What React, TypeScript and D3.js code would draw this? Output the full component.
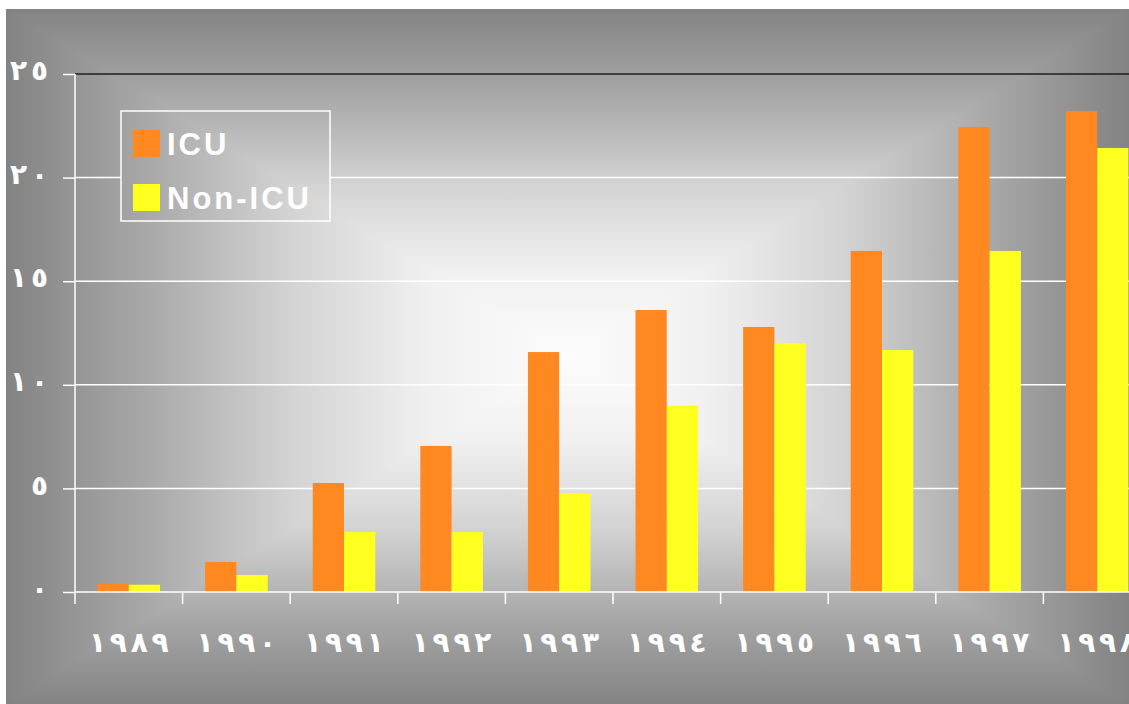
import React, { useEffect, useRef } from 'react';
import * as d3 from 'd3';

const years = ['١٩٨٩', '١٩٩٠', '١٩٩١', '١٩٩٢', '١٩٩٣', '١٩٩٤', '١٩٩٥', '١٩٩٦', '١٩٩٧', '١٩٩٨'];
const icu = [0.4, 1.45, 5.26, 7.05, 11.58, 13.61, 12.79, 16.46, 22.44, 23.21];
const nonIcu = [0.35, 0.82, 2.9, 2.9, 4.78, 8.98, 12.02, 11.68, 16.46, 21.43];
const yTicks = [0, 5, 10, 15, 20, 25];
const yTickLabels = ['٠', '٥', '١٠', '١٥', '٢٠', '٢٥'];
const seriesNames = ['ICU', 'Non-ICU'];
const seriesColors = ['#ff8820', '#ffff20'];

const W = 1129;
const H = 704;

// spread the digits apart, keeping left-to-right order
const spaced = (s: string) => Array.from(s).join(' ');

const App: React.FC = () => {
  const svgRef = useRef<SVGSVGElement>(null);

  useEffect(() => {
    if (!svgRef.current) return;
    const svg = d3.select(svgRef.current);
    svg.selectAll('*').remove();

    const bg = { x0: 6, y0: 9, x1: W, y1: H };
    const cx = (bg.x0 + bg.x1) / 2;
    const cy = (bg.y0 + bg.y1) / 2;
    const stops: [number, string][] = [
      [0, '#fcfcfc'],
      [0.25, '#f0f0f0'],
      [0.5, '#d2d2d2'],
      [0.75, '#a8a8a8'],
      [1, '#838383'],
    ];

    const defs = svg.append('defs');
    // "from center" rectangular gradient: horizontal mirrored fill + top/bottom triangles
    const hg = defs.append('linearGradient')
      .attr('id', 'gH')
      .attr('gradientUnits', 'userSpaceOnUse')
      .attr('x1', bg.x0).attr('y1', cy).attr('x2', bg.x1).attr('y2', cy);
    stops.slice().reverse().forEach(([o, c]) => hg.append('stop').attr('offset', (1 - o) / 2).attr('stop-color', c));
    stops.forEach(([o, c]) => hg.append('stop').attr('offset', 0.5 + o / 2).attr('stop-color', c));

    const sides = [
      { id: 'gTop', y2: bg.y0, pts: [[cx, cy], [bg.x0, bg.y0], [bg.x1, bg.y0]] },
      { id: 'gBottom', y2: bg.y1, pts: [[cx, cy], [bg.x0, bg.y1], [bg.x1, bg.y1]] },
    ];
    sides.forEach(s => {
      const lg = defs.append('linearGradient')
        .attr('id', s.id)
        .attr('gradientUnits', 'userSpaceOnUse')
        .attr('x1', cx).attr('y1', cy)
        .attr('x2', cx).attr('y2', s.y2);
      stops.forEach(([o, c]) => lg.append('stop').attr('offset', o).attr('stop-color', c));
    });

    const bgGroup = defs.append('g').attr('id', 'bgFill');
    bgGroup.append('rect')
      .attr('x', bg.x0).attr('y', bg.y0)
      .attr('width', bg.x1 - bg.x0).attr('height', bg.y1 - bg.y0)
      .attr('fill', 'url(#gH)');
    sides.forEach(s => {
      bgGroup.append('polygon')
        .attr('points', s.pts.map(p => p.join(',')).join(' '))
        .attr('fill', `url(#${s.id})`);
    });

    svg.append('use').attr('href', '#bgFill');

    const margin = { left: 75, top: 74, bottom: 592 };
    const step = 107.6;

    const x0 = d3.scaleBand<string>()
      .domain(years)
      .range([margin.left, margin.left + step * years.length])
      .padding(0);

    const x1 = d3.scaleBand<string>()
      .domain(seriesNames)
      .range([0, x0.bandwidth()])
      .paddingInner(0)
      .paddingOuter(0.72);

    const y = d3.scaleLinear().domain([0, 25]).range([margin.bottom, margin.top]);

    // gridlines
    svg.append('g')
      .selectAll('line')
      .data(yTicks.filter(t => t > 0))
      .join('line')
      .attr('x1', margin.left)
      .attr('x2', W)
      .attr('y1', d => y(d))
      .attr('y2', d => y(d))
      .attr('stroke', d => (d === 25 ? '#1e1e1e' : '#ffffff'))
      .attr('stroke-width', 1.5);

    // bars
    const series = [icu, nonIcu];
    series.forEach((vals, si) => {
      svg.append('g')
        .selectAll('rect')
        .data(vals)
        .join('rect')
        .attr('x', (d, i) => (x0(years[i]) as number) + (x1(seriesNames[si]) as number))
        .attr('width', x1.bandwidth())
        .attr('y', d => y(d))
        .attr('height', d => y(0) - y(d))
        .attr('fill', seriesColors[si]);
    });

    const labelStyle = (sel: any) => sel
      .attr('fill', '#fff')
      .attr('font-family', 'DejaVu Sans')
      .attr('font-weight', 'bold')
      .attr('font-size', 28)
      .attr('word-spacing', -6)
      .style('unicode-bidi', 'bidi-override')
      .style('direction', 'ltr');

    // axes
    const yAxis = d3.axisLeft(y)
      .tickValues(yTicks)
      .tickSize(12)
      .tickFormat((d, i) => spaced(yTickLabels[i]));
    const yg = svg.append('g')
      .attr('transform', `translate(${margin.left},0)`)
      .call(yAxis);
    yg.select('.domain').remove();
    yg.selectAll('.tick line').attr('stroke', '#fff').attr('stroke-width', 1.5);
    yg.selectAll('.tick text')
      .attr('x', -27)
      .attr('dy', '0.2em')
      .attr('text-anchor', 'end')
      .call(labelStyle);

    svg.append('line')
      .attr('x1', margin.left).attr('x2', margin.left)
      .attr('y1', margin.top).attr('y2', margin.bottom + 12)
      .attr('stroke', '#fff').attr('stroke-width', 1.5);

    svg.append('line')
      .attr('x1', margin.left).attr('x2', W)
      .attr('y1', margin.bottom).attr('y2', margin.bottom)
      .attr('stroke', '#fff').attr('stroke-width', 1.5);

    // category boundary ticks
    svg.append('g')
      .selectAll('line')
      .data(years)
      .join('line')
      .attr('x1', d => (x0(d) as number) + step)
      .attr('x2', d => (x0(d) as number) + step)
      .attr('y1', margin.bottom)
      .attr('y2', margin.bottom + 12)
      .attr('stroke', '#fff')
      .attr('stroke-width', 1.5);

    svg.append('g')
      .selectAll('text')
      .data(years)
      .join('text')
      .attr('x', d => (x0(d) as number) + x0.bandwidth() / 2)
      .attr('y', 652)
      .attr('text-anchor', 'middle')
      .call(labelStyle)
      .text(d => spaced(d));

    // legend
    const lg = { x: 121, y: 111, w: 209, h: 110 };
    defs.append('clipPath').attr('id', 'legendClip')
      .append('rect').attr('x', lg.x).attr('y', lg.y).attr('width', lg.w).attr('height', lg.h);
    svg.append('use').attr('href', '#bgFill').attr('clip-path', 'url(#legendClip)');
    svg.append('rect')
      .attr('x', lg.x).attr('y', lg.y).attr('width', lg.w).attr('height', lg.h)
      .attr('fill', 'none').attr('stroke', '#fff').attr('stroke-width', 1.5);

    seriesNames.forEach((name, i) => {
      const yy = 130 + i * 54;
      svg.append('rect')
        .attr('x', 133).attr('y', yy).attr('width', 27).attr('height', 27)
        .attr('fill', seriesColors[i]);
      svg.append('text')
        .attr('x', 167).attr('y', yy + 25)
        .attr('fill', '#fff')
        .attr('font-family', 'Liberation Sans, Arial, sans-serif')
        .attr('font-weight', 'bold')
        .attr('font-size', 31)
        .attr('letter-spacing', 3)
        .text(name);
    });
  }, []);

  return (
    <svg
      ref={svgRef}
      width={W}
      height={H}
      style={{ position: 'absolute', left: 0, top: 0, display: 'block' }}
    />
  );
};

export default App;
